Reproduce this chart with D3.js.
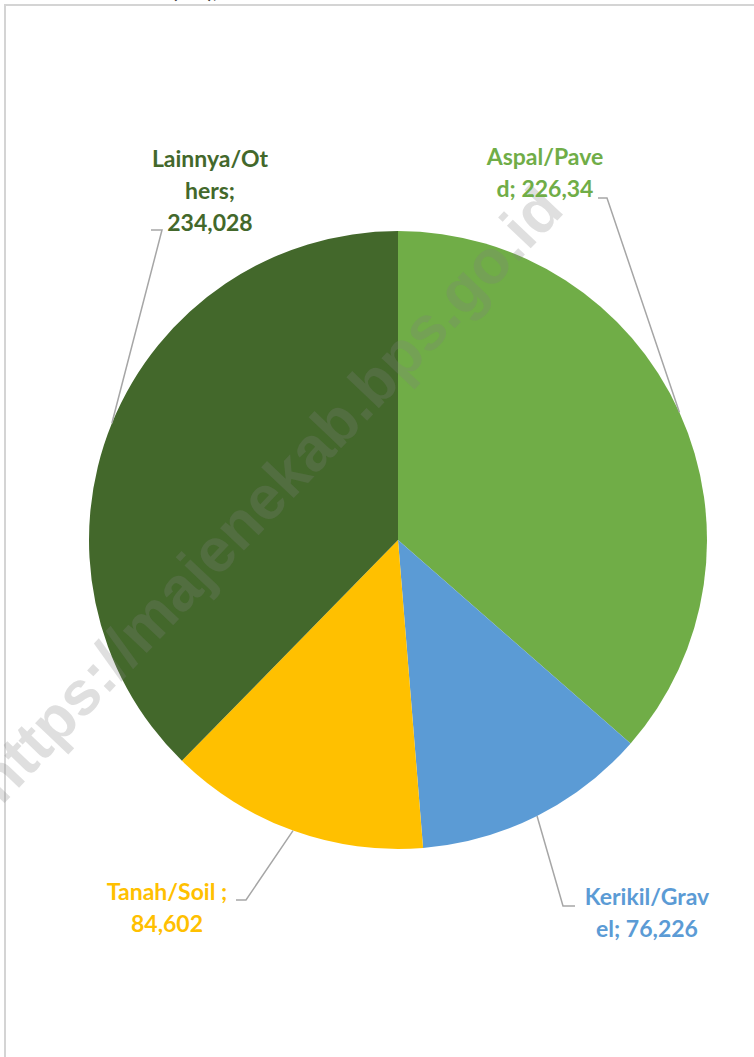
<html>
<head>
<script src="https://d3js.org/d3.v7.min.js"></script>
<style>
    body { margin: 0; background: #fff; }
    svg { display: block; }
    .lbl { font-family: Lato, "Open Sans", sans-serif; font-weight: bold; font-size: 23px; }
</style>
</head>
<body>
<svg id="chart" width="754" height="1057"></svg>
<script>
    // data (km)
    const categories = ["Aspal/Paved", "Kerikil/Gravel", "Tanah/Soil", "Lainnya/Others"];
    const values = [226.34, 76.226, 84.602, 234.028];
    const valueLabels = ["226,34", "76,226", "84,602", "234,028"];
    const colors = ["#70AD47", "#5B9BD5", "#FFC000", "#43682B"];
    // how Excel wrapped each label
    const labelLines = [
        ["Aspal/Pave", "d; 226,34"],
        ["Kerikil/Grav", "el; 76,226"],
        ["Tanah/Soil ;", "84,602"],
        ["Lainnya/Ot", "hers;", "234,028"]
    ];

    const svg = d3.select("#chart");
    const cx = 398, cy = 540, radius = 309;

    // frame of the chart area
    svg.append("path")
       .attr("d", "M5,1057 V5 H760")
       .attr("fill", "none")
       .attr("stroke", "#d4d4d4")
       .attr("stroke-width", 2);

    // cut-off title above the frame
    svg.append("text")
       .attr("x", 172).attr("y", -2)
       .attr("font-family", "Lato, sans-serif")
       .attr("font-weight", "bold")
       .attr("font-size", 20)
       .attr("fill", "#404040")
       .text("(Km), 2021");

    const g = svg.append("g").attr("transform", `translate(${cx},${cy})`);

    const pie = d3.pie().sort(null).value(d => d);
    const arcs = pie(values);
    const arc = d3.arc().innerRadius(0).outerRadius(radius);
    const edge = d3.arc().innerRadius(radius).outerRadius(radius);

    g.selectAll("path.slice").data(arcs)
     .join("path")
     .attr("class", "slice")
     .attr("d", arc)
     .attr("fill", (d, i) => colors[i]);

    // label layout: centre x, first baseline, elbow point, end of short tick
    const layout = [
        { x: 545, y: 165, elbow: [607, 198], tick: [598, 198] },
        { x: 647, y: 905, elbow: [563, 906], tick: [575, 906] },
        { x: 167, y: 900, elbow: [246, 900], tick: [236, 900] },
        { x: 210, y: 167, elbow: [162, 230], tick: [151, 230] }
    ];

    // leader lines
    svg.selectAll("polyline.leader").data(arcs)
       .join("polyline")
       .attr("class", "leader")
       .attr("fill", "none")
       .attr("stroke", "#a6a6a6")
       .attr("stroke-width", 1.5)
       .attr("points", (d, i) => {
           const c = edge.centroid(d);
           const p0 = [cx + c[0], cy + c[1]];
           return [p0, layout[i].elbow, layout[i].tick].map(p => p.join(",")).join(" ");
       });

    // watermark
    svg.append("text")
       .attr("transform", "translate(268,494) rotate(-46.5)")
       .attr("text-anchor", "middle")
       .attr("dominant-baseline", "central")
       .attr("font-family", "Liberation Sans, Arial, sans-serif")
       .attr("font-weight", "bold")
       .attr("font-size", 62)
       .attr("fill", "#808080")
       .attr("fill-opacity", 0.25)
       .text("https://majenekab.bps.go.id");

    // data labels
    const labels = svg.selectAll("text.lbl").data(arcs)
       .join("text")
       .attr("class", "lbl")
       .attr("text-anchor", "middle")
       .attr("fill", (d, i) => colors[i]);

    labels.each(function(d, i) {
        d3.select(this).selectAll("tspan").data(labelLines[i])
          .join("tspan")
          .attr("x", layout[i].x)
          .attr("y", (t, j) => layout[i].y + j * 32)
          .text(t => t);
    });
</script>
</body>
</html>
